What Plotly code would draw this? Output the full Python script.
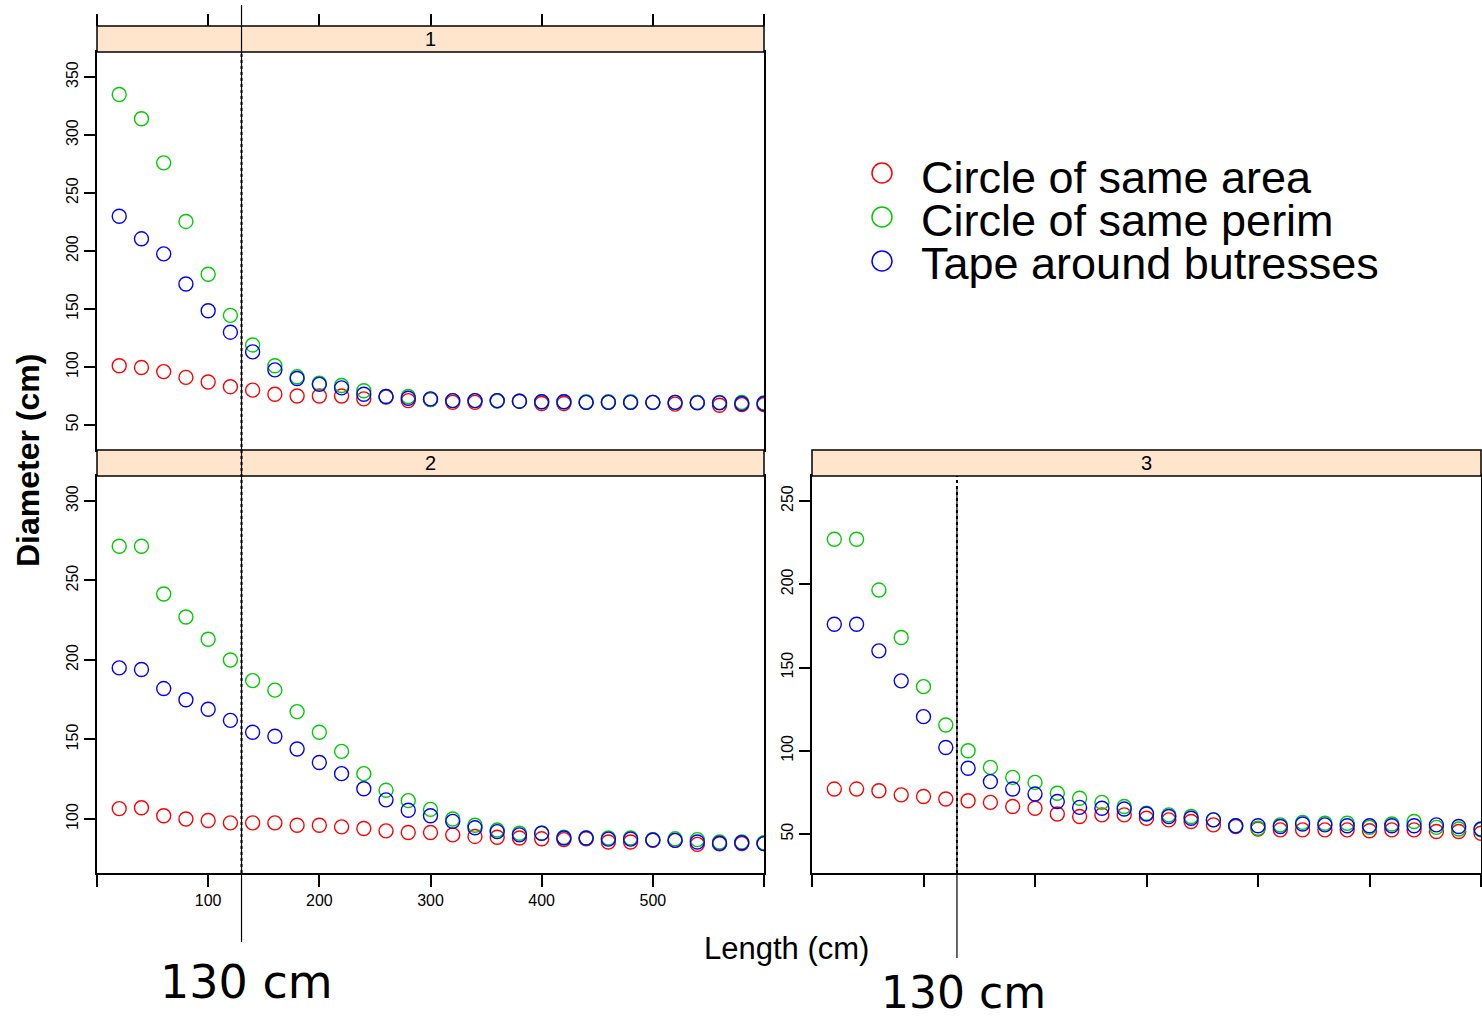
import plotly.graph_objects as go

W, H = 1482, 1020
def fx(px): return px / W
def fy(py): return 1 - py / H

# ---------------- data ----------------
length = [20, 40, 60, 80, 100, 120, 140, 160, 180, 200, 220, 240, 260, 280, 300,
          320, 340, 360, 380, 400, 420, 440, 460, 480, 500, 520, 540, 560, 580, 600]

series_names = ["Circle of same area", "Circle of same perim", "Tape around butresses"]
series_colors = ["#FF0000", "#00CC00", "#0000FF"]

p1_area  = [101, 99.5, 96, 91, 87, 83, 80, 76.5, 75, 75, 75, 72.5, 74, 71, 72,
            69.5, 69.5, 71, 70.5, 68.5, 68.5, 69.5, 69.5, 69.5, 69.5, 68, 69.5, 67, 67.5, 67.5]
p1_perim = [335, 314, 276, 225.5, 180, 144.5, 119, 101, 91.5, 86, 84, 79.5, 74.5, 74.5, 72,
            71, 71, 70.5, 70.5, 70, 70, 70, 70, 70, 69.5, 69.5, 69.5, 69.5, 69.5, 69]
p1_tape  = [230, 210.5, 197.5, 171.5, 148.5, 130, 113, 97.5, 90, 85, 82, 76.5, 74.5, 73, 72.5,
            71, 71, 71, 70.5, 70, 70, 69.5, 69.5, 69.5, 69.5, 69.5, 69, 69, 68.5, 68.5]

p2_area  = [106.5, 107, 102, 100, 99, 97.5, 97.5, 97.5, 96, 96, 95, 94, 92.5, 91.5, 91.5,
            90, 89, 88.5, 88, 87.5, 87, 87.5, 85.5, 85.5, 86.5, 86.5, 84, 84.3, 84.5, 84.5]
p2_perim = [271.5, 271.5, 241.5, 227, 213, 200, 187, 181, 167.5, 154.5, 142.5, 128.5, 118, 111.5, 106,
            100, 96, 93, 91, 91, 88.5, 88, 88, 88, 87, 87.5, 87, 85.5, 85.5, 85]
p2_tape  = [195, 194, 182, 175, 169, 162, 154.5, 152, 144, 135.5, 128.5, 119, 112, 105.5, 102,
            98.5, 94.5, 92, 90, 91, 88, 88, 87.3, 87.3, 86.8, 86.5, 85.5, 84.7, 85, 84.5]

p3_area  = [77, 77, 76, 73.5, 72.5, 71, 70, 69, 66.5, 65.5, 62, 60.5, 61.5, 61.5, 59.5,
            58.5, 57.5, 55.5, 54.5, 53, 52.5, 52.5, 52.5, 52.5, 52, 52.5, 52.5, 51.5, 51.5, 50.5]
p3_perim = [227, 227, 196.5, 168, 138.5, 115.5, 100, 90, 84, 81, 74.5, 71.5, 69, 66.5, 62.5,
            61.5, 60.5, 58.5, 55, 53.5, 55.5, 57, 56.5, 56.5, 54, 56, 57.5, 54, 53, 52.5]
p3_tape  = [176, 176, 160, 142, 120.5, 102, 89.5, 81.5, 77, 74, 69.5, 66, 65.5, 65, 62,
            60.5, 59.5, 58.5, 55, 55, 54.5, 56, 55.5, 55, 55, 55, 55, 55.5, 54.5, 53]

panel_labels = ["1", "2", "3"]
x_ticks = [0, 100, 200, 300, 400, 500, 600]
x_ticktext = ["", "100", "200", "300", "400", "500", ""]
y_ticks_p1 = [50, 100, 150, 200, 250, 300, 350]
y_ticks_p2 = [100, 150, 200, 250, 300]
y_ticks_p3 = [50, 100, 150, 200, 250]
ref_length = 130

# ---------------- figure ----------------
fig = go.Figure()
panels = [
    ("x", "y", [p1_area, p1_perim, p1_tape]),
    ("x2", "y2", [p2_area, p2_perim, p2_tape]),
    ("x3", "y3", [p3_area, p3_perim, p3_tape]),
]
for xa, ya, vals in panels:
    for name, col, v in zip(series_names, series_colors, vals):
        fig.add_trace(go.Scatter(
            x=length, y=v, mode="markers", name=name, showlegend=False,
            xaxis=xa, yaxis=ya, cliponaxis=True,
            marker=dict(symbol="circle-open", size=14, color=col, line=dict(width=1.4, color=col)),
        ))
# empty trace for top tick axis
fig.add_trace(go.Scatter(x=[], y=[], xaxis="x4", yaxis="y", showlegend=False))

tickfont = dict(family="Liberation Sans, Arial, sans-serif", size=16, color="black")
axcommon = dict(showline=True, linecolor="black", linewidth=1.5, mirror=True,
                showgrid=False, zeroline=False)

P1 = dict(x0=97, x1=764, y0=52, y1=450)
P2 = dict(x0=97, x1=764, y0=476, y1=873)
P3 = dict(x0=812, x1=1481, y0=476, y1=873)

def xdom(p): return [fx(p["x0"]), fx(p["x1"])]
def ydom(p): return [fy(p["y1"]), fy(p["y0"])]

fig.update_layout(
    width=W, height=H, margin=dict(l=0, r=0, t=0, b=0),
    paper_bgcolor="white", plot_bgcolor="white", showlegend=False,
    xaxis=dict(domain=xdom(P1), anchor="y", range=[0, 600], ticks="", showticklabels=False, **axcommon),
    yaxis=dict(domain=ydom(P1), anchor="x", range=[28.4, 371.6], tickvals=y_ticks_p1, ticks="outside",
               ticklen=11, tickwidth=1.5, tickcolor="black", tickangle=-90, tickfont=tickfont, **axcommon),
    xaxis2=dict(domain=xdom(P2), anchor="y2", range=[0, 600], tickvals=x_ticks, ticktext=x_ticktext,
                ticks="outside", ticklen=12, tickwidth=1.5, tickcolor="black", tickfont=tickfont, **axcommon),
    yaxis2=dict(domain=ydom(P2), anchor="x2", range=[66, 315.7], tickvals=y_ticks_p2, ticks="outside",
                ticklen=11, tickwidth=1.5, tickcolor="black", tickangle=-90, tickfont=tickfont, **axcommon),
    xaxis3=dict(domain=xdom(P3), anchor="y3", range=[0, 600], tickvals=x_ticks, ticks="outside",
                ticklen=12, tickwidth=1.5, tickcolor="black", showticklabels=False, **axcommon),
    yaxis3=dict(domain=ydom(P3), anchor="x3", range=[26.6, 265], tickvals=y_ticks_p3, ticks="outside",
                ticklen=11, tickwidth=1.5, tickcolor="black", tickangle=-90, tickfont=tickfont, **axcommon),
    xaxis4=dict(overlaying="x", anchor="free", position=fy(26), side="top", range=[0, 600],
                tickvals=x_ticks, ticks="outside", ticklen=12, tickwidth=1.5, tickcolor="black",
                showticklabels=False, showline=False, showgrid=False, zeroline=False),
)

shapes = []
strip_fill = "#FFE5CC"
for p, lab in zip([P1, P2, P3], panel_labels):
    shapes.append(dict(type="rect", xref="paper", yref="paper",
                       x0=fx(p["x0"]), x1=fx(p["x1"]), y0=fy(p["y0"]), y1=fy(p["y0"] - 26),
                       fillcolor=strip_fill, line=dict(color="black", width=1.5), layer="above"))
# reference lines at 130 cm
shapes.append(dict(type="line", xref="x", yref="paper", x0=ref_length, x1=ref_length,
                   y0=fy(942), y1=fy(5), line=dict(color="black", width=1.2)))
shapes.append(dict(type="line", xref="x", yref="paper", x0=ref_length, x1=ref_length,
                   y0=fy(873), y1=fy(52), line=dict(color="black", width=2, dash="dot")))
shapes.append(dict(type="line", xref="x3", yref="paper", x0=ref_length, x1=ref_length,
                   y0=fy(958), y1=fy(488), line=dict(color="black", width=1.2)))
shapes.append(dict(type="line", xref="x3", yref="paper", x0=ref_length, x1=ref_length,
                   y0=fy(873), y1=fy(476), line=dict(color="black", width=2, dash="dot")))
# legend symbols
for i, col in enumerate(series_colors):
    cy = 173 + 44 * i
    shapes.append(dict(type="circle", xref="paper", yref="paper",
                       x0=fx(872), x1=fx(892), y0=fy(cy + 10), y1=fy(cy - 10),
                       line=dict(color=col, width=1.5)))
fig.update_layout(shapes=shapes)

ann = []
for p, lab in zip([P1, P2, P3], panel_labels):
    ann.append(dict(text=lab, xref="paper", yref="paper", x=fx((p["x0"] + p["x1"]) / 2),
                    y=fy(p["y0"] - 13), showarrow=False, xanchor="center", yanchor="middle",
                    font=dict(family="Liberation Sans, Arial, sans-serif", size=20, color="black")))
for i, name in enumerate(series_names):
    ann.append(dict(text=name, xref="paper", yref="paper", x=fx(919), y=fy(177 + 43.5 * i),
                    showarrow=False, xanchor="left", yanchor="middle",
                    font=dict(family="Liberation Sans, Arial, sans-serif", size=45, color="black")))
ann.append(dict(text="<b>Diameter (cm)</b>", xref="paper", yref="paper", x=fx(28), y=fy(461),
                showarrow=False, textangle=-90, xanchor="center", yanchor="middle",
                font=dict(family="Liberation Sans, Arial, sans-serif", size=32, color="black")))
ann.append(dict(text="Length (cm)", xref="paper", yref="paper", x=fx(787), y=fy(948),
                showarrow=False, xanchor="center", yanchor="middle",
                font=dict(family="Liberation Sans, Arial, sans-serif", size=31, color="black")))
ann.append(dict(text="130 cm", xref="paper", yref="paper", x=fx(246), y=fy(982),
                showarrow=False, xanchor="center", yanchor="middle",
                font=dict(family="DejaVu Sans, sans-serif", size=46, color="black")))
ann.append(dict(text="130 cm", xref="paper", yref="paper", x=fx(963), y=fy(992),
                showarrow=False, xanchor="center", yanchor="middle",
                font=dict(family="DejaVu Sans, sans-serif", size=44, color="black")))
fig.update_layout(annotations=ann)

fig.write_html("out.html", config={"displayModeBar": False},
               post_script="document.body.style.margin='0';document.body.style.overflow='hidden';")
